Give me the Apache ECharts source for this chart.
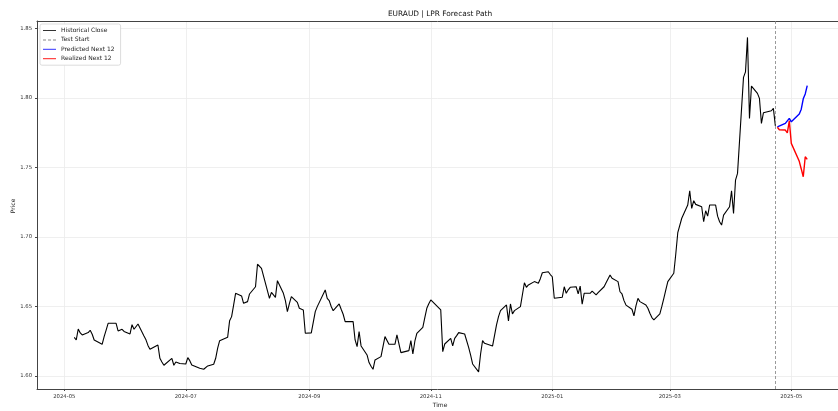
<!DOCTYPE html>
<html>
<head>
<meta charset="utf-8">
<script src="https://cdn.jsdelivr.net/npm/echarts@6/dist/echarts.min.js"></script>
<style>html,body{margin:0;padding:0;background:#fff}#c{width:838px;height:411px}</style>
</head>
<body>
<div id="c"></div>
<script>
const histDates = ['2024-05-06','2024-05-07','2024-05-08','2024-05-09','2024-05-10','2024-05-13','2024-05-14','2024-05-15','2024-05-16','2024-05-17','2024-05-20','2024-05-21','2024-05-22','2024-05-23','2024-05-24','2024-05-27','2024-05-28','2024-05-29','2024-05-30','2024-05-31','2024-06-03','2024-06-04','2024-06-05','2024-06-06','2024-06-07','2024-06-10','2024-06-11','2024-06-12','2024-06-13','2024-06-14','2024-06-17','2024-06-18','2024-06-19','2024-06-20','2024-06-21','2024-06-24','2024-06-25','2024-06-26','2024-06-27','2024-06-28','2024-07-01','2024-07-02','2024-07-03','2024-07-04','2024-07-05','2024-07-08','2024-07-09','2024-07-10','2024-07-11','2024-07-12','2024-07-15','2024-07-16','2024-07-17','2024-07-18','2024-07-19','2024-07-22','2024-07-23','2024-07-24','2024-07-25','2024-07-26','2024-07-29','2024-07-30','2024-07-31','2024-08-01','2024-08-02','2024-08-05','2024-08-06','2024-08-07','2024-08-08','2024-08-09','2024-08-12','2024-08-13','2024-08-14','2024-08-15','2024-08-16','2024-08-19','2024-08-20','2024-08-21','2024-08-22','2024-08-23','2024-08-26','2024-08-27','2024-08-28','2024-08-29','2024-08-30','2024-09-02','2024-09-03','2024-09-04','2024-09-05','2024-09-06','2024-09-09','2024-09-10','2024-09-11','2024-09-12','2024-09-13','2024-09-16','2024-09-17','2024-09-18','2024-09-19','2024-09-20','2024-09-23','2024-09-24','2024-09-25','2024-09-26','2024-09-27','2024-09-30','2024-10-01','2024-10-02','2024-10-03','2024-10-04','2024-10-07','2024-10-08','2024-10-09','2024-10-10','2024-10-11','2024-10-14','2024-10-15','2024-10-16','2024-10-17','2024-10-18','2024-10-21','2024-10-22','2024-10-23','2024-10-24','2024-10-25','2024-10-28','2024-10-29','2024-10-30','2024-10-31','2024-11-01','2024-11-04','2024-11-05','2024-11-06','2024-11-07','2024-11-08','2024-11-11','2024-11-12','2024-11-13','2024-11-14','2024-11-15','2024-11-18','2024-11-19','2024-11-20','2024-11-21','2024-11-22','2024-11-25','2024-11-26','2024-11-27','2024-11-28','2024-11-29','2024-12-02','2024-12-03','2024-12-04','2024-12-05','2024-12-06','2024-12-09','2024-12-10','2024-12-11','2024-12-12','2024-12-13','2024-12-16','2024-12-17','2024-12-18','2024-12-19','2024-12-20','2024-12-23','2024-12-24','2024-12-25','2024-12-26','2024-12-27','2024-12-30','2024-12-31','2025-01-01','2025-01-02','2025-01-03','2025-01-06','2025-01-07','2025-01-08','2025-01-09','2025-01-10','2025-01-13','2025-01-14','2025-01-15','2025-01-16','2025-01-17','2025-01-20','2025-01-21','2025-01-22','2025-01-23','2025-01-24','2025-01-27','2025-01-28','2025-01-29','2025-01-30','2025-01-31','2025-02-03','2025-02-04','2025-02-05','2025-02-06','2025-02-07','2025-02-10','2025-02-11','2025-02-12','2025-02-13','2025-02-14','2025-02-17','2025-02-18','2025-02-19','2025-02-20','2025-02-21','2025-02-24','2025-02-25','2025-02-26','2025-02-27','2025-02-28','2025-03-03','2025-03-04','2025-03-05','2025-03-06','2025-03-07','2025-03-10','2025-03-11','2025-03-12','2025-03-13','2025-03-14','2025-03-17','2025-03-18','2025-03-19','2025-03-20','2025-03-21','2025-03-24','2025-03-25','2025-03-26','2025-03-27','2025-03-28','2025-03-31','2025-04-01','2025-04-02','2025-04-03','2025-04-04','2025-04-07','2025-04-08','2025-04-09','2025-04-10','2025-04-11','2025-04-14','2025-04-15','2025-04-16','2025-04-17','2025-04-18','2025-04-21','2025-04-22','2025-04-23'];
const histValues = [1.6278,1.6259,1.6338,1.6310,1.6295,1.6312,1.6329,1.6300,1.6259,1.6262,1.6228,1.6283,1.6330,1.6379,1.6380,1.6379,1.6324,1.6330,1.6336,1.6320,1.6302,1.6369,1.6336,1.6350,1.6374,1.6288,1.6260,1.6220,1.6192,1.6187,1.6223,1.6127,1.6100,1.6077,1.6090,1.6127,1.6077,1.6100,1.6095,1.6090,1.6086,1.6132,1.6110,1.6079,1.6072,1.6055,1.6060,1.6048,1.6060,1.6072,1.6084,1.6127,1.6200,1.6254,1.6262,1.6278,1.6398,1.6427,1.6510,1.6595,1.6576,1.6523,1.6530,1.6535,1.6590,1.6642,1.6804,1.6806,1.6775,1.6771,1.6559,1.6602,1.6605,1.6566,1.6686,1.6595,1.6542,1.6463,1.6520,1.6571,1.6530,1.6487,1.6480,1.6475,1.6307,1.6310,1.6312,1.6463,1.6499,1.6492,1.6619,1.6559,1.6542,1.6500,1.6470,1.6518,1.6480,1.6444,1.6391,1.6391,1.6391,1.6259,1.6211,1.6319,1.6216,1.6151,1.6096,1.6070,1.6048,1.6115,1.6139,1.6150,1.6283,1.6286,1.6228,1.6228,1.6295,1.6295,1.6168,1.6175,1.6182,1.6254,1.6158,1.6250,1.6307,1.6350,1.6420,1.6487,1.6520,1.6547,1.6504,1.6518,1.6475,1.6175,1.6230,1.6271,1.6216,1.6270,1.6290,1.6312,1.6302,1.6295,1.6206,1.6150,1.6086,1.6029,1.6158,1.6254,1.6235,1.6225,1.6215,1.6206,1.6367,1.6427,1.6470,1.6511,1.6396,1.6518,1.6446,1.6470,1.6499,1.6510,1.6671,1.6638,1.6655,1.6679,1.6665,1.6667,1.6700,1.6743,1.6750,1.6730,1.6714,1.6559,1.6562,1.6566,1.6642,1.6595,1.6620,1.6638,1.6642,1.6590,1.6647,1.6516,1.6595,1.6595,1.6610,1.6600,1.6583,1.6599,1.6642,1.6671,1.6679,1.6727,1.6703,1.6679,1.6606,1.6590,1.6542,1.6510,1.6480,1.6432,1.6504,1.6559,1.6535,1.6511,1.6487,1.6451,1.6420,1.6403,1.6446,1.6500,1.6559,1.6620,1.6679,1.6739,1.6878,1.7031,1.7036,1.7135,1.7230,1.7333,1.7206,1.7261,1.7235,1.7218,1.7110,1.7189,1.7151,1.7230,1.7230,1.7150,1.7110,1.7086,1.7158,1.7218,1.7333,1.7170,1.7410,1.7458,1.8149,1.8189,1.8437,1.7854,1.8086,1.8034,1.7998,1.7818,1.7894,1.7900,1.7909,1.7926,1.7800];
const fcDates = ['2025-04-24','2025-04-25','2025-04-28','2025-04-29','2025-04-30','2025-05-01','2025-05-02','2025-05-05','2025-05-06','2025-05-07','2025-05-08','2025-05-09'];
const predValues = [1.7793,1.7800,1.7818,1.7822,1.7854,1.7829,1.7840,1.7885,1.7920,1.7995,1.8030,1.8090];
const realValues = [1.7790,1.7772,1.7770,1.7750,1.7837,1.7674,1.7680,1.7545,1.7490,1.7434,1.7578,1.7559];
const testStart = '2025-04-23';
const xTickDates = ['2024-05-01','2024-07-01','2024-09-01','2024-11-01','2025-01-01','2025-03-01','2025-05-01'];
const yTicks = [1.60,1.65,1.70,1.75,1.80,1.85];

const ts = s => Date.parse(s);
const zip = (d, v) => d.map((s, i) => [ts(s), v[i]]);
const FONT = 'DejaVu Sans';
const xMin = Date.UTC(2024,3,17,7,0);
const xMax = Date.UTC(2025,4,24,10,40);
const pad = n => (n < 10 ? '0' : '') + n;
const xTickTs = xTickDates.map(ts);
const solidIcon = 'path://M0,0h13v1h-13z';
const dashIcon = 'path://M0,0h3v1h-3zM5,0h3v1h-3zM10,0h3v1h-3z';

const chart = echarts.init(document.getElementById('c'), null, {renderer:'canvas'});
chart.setOption({
  animation: false,
  backgroundColor: '#fff',
  grid: {left: 37, top: 21, right: 0, bottom: 22},
  graphic: [
    {type:'text', x: 440, y: 14, style:{text:'EURAUD | LPR Forecast Path', fontSize: 7.4, fontFamily: FONT, fill:'#111', align:'center', verticalAlign:'middle'}},
    {type:'text', x: 440, y: 405, style:{text:'Time', fontSize: 6, fontFamily: FONT, fill:'#222', align:'center', verticalAlign:'middle'}},
    {type:'text', x: 13, y: 206, rotation: Math.PI/2, style:{text:'Price', fontSize: 6, fontFamily: FONT, fill:'#222', align:'center', verticalAlign:'middle'}}
  ],
  legend: {
    orient: 'vertical', left: 40, top: 24,
    data: [
      {name: 'Historical Close', icon: solidIcon, itemStyle: {color: '#333'}},
      {name: 'Test Start', icon: dashIcon, itemStyle: {color: '#888'}},
      {name: 'Predicted Next 12', icon: solidIcon, itemStyle: {color: '#3333ff'}},
      {name: 'Realized Next 12', icon: solidIcon, itemStyle: {color: '#ff1a1a'}}
    ],
    itemWidth: 13, itemHeight: 1.4, itemGap: 2.4,
    padding: [3, 6, 3, 3],
    borderColor: '#d4d4d4', borderWidth: 0.8, borderRadius: 2, backgroundColor: '#fff',
    textStyle: {fontSize: 6, fontFamily: FONT, color: '#222', lineHeight: 7}
  },
  xAxis: [{
    type: 'value', min: xMin, max: xMax, scale: true,
    axisLine: {show: true, lineStyle: {color: '#444', width: 1}},
    axisTick: {show: true, length: 2, lineStyle: {color: '#444'}, customValues: xTickTs},
    axisLabel: {customValues: xTickTs, fontSize: 5.3, fontFamily: FONT, color: '#333', margin: 5,
      formatter: v => { const d = new Date(v); return d.getUTCFullYear() + '-' + pad(d.getUTCMonth()+1); }},
    splitLine: {show: true, lineStyle: {color: '#ebebeb', width: 0.8}}
  }, {
    type: 'value', position: 'top', min: xMin, max: xMax, scale: true,
    axisLine: {show: true, onZero: false, lineStyle: {color: '#444', width: 1}},
    axisTick: {show: false}, axisLabel: {show: false}, splitLine: {show: false}
  }],
  yAxis: {
    type: 'value', min: 1.5906, max: 1.8555, scale: true,
    axisLine: {show: true, onZero: false, lineStyle: {color: '#444', width: 1}},
    axisTick: {show: true, length: 2, lineStyle: {color: '#444'}, customValues: yTicks},
    axisLabel: {customValues: yTicks, fontSize: 5.3, fontFamily: FONT, color: '#333', margin: 5, formatter: v => v.toFixed(2)},
    splitLine: {show: true, lineStyle: {color: '#ebebeb', width: 0.8}}
  },
  series: [
    {name: 'Historical Close', type: 'line', symbol: 'none', data: zip(histDates, histValues),
     lineStyle: {color: '#000', width: 1.1}, itemStyle: {color: '#000'}, z: 3},
    {name: 'Test Start', type: 'line', symbol: 'none', data: [],
     lineStyle: {color: '#808080', width: 0.8, type: [3, 2]}, itemStyle: {color: '#808080'},
     markLine: {symbol: 'none', silent: true, label: {show: false},
       lineStyle: {color: '#808080', width: 0.8, type: [3, 2]},
       data: [{xAxis: ts(testStart)}]}, z: 2},
    {name: 'Predicted Next 12', type: 'line', symbol: 'none', data: zip(fcDates, predValues),
     lineStyle: {color: '#0000ff', width: 1.4}, itemStyle: {color: '#0000ff'}, z: 4},
    {name: 'Realized Next 12', type: 'line', symbol: 'none', data: zip(fcDates, realValues),
     lineStyle: {color: '#ff0000', width: 1.4}, itemStyle: {color: '#ff0000'}, z: 5}
  ]
});
</script>
</body>
</html>
